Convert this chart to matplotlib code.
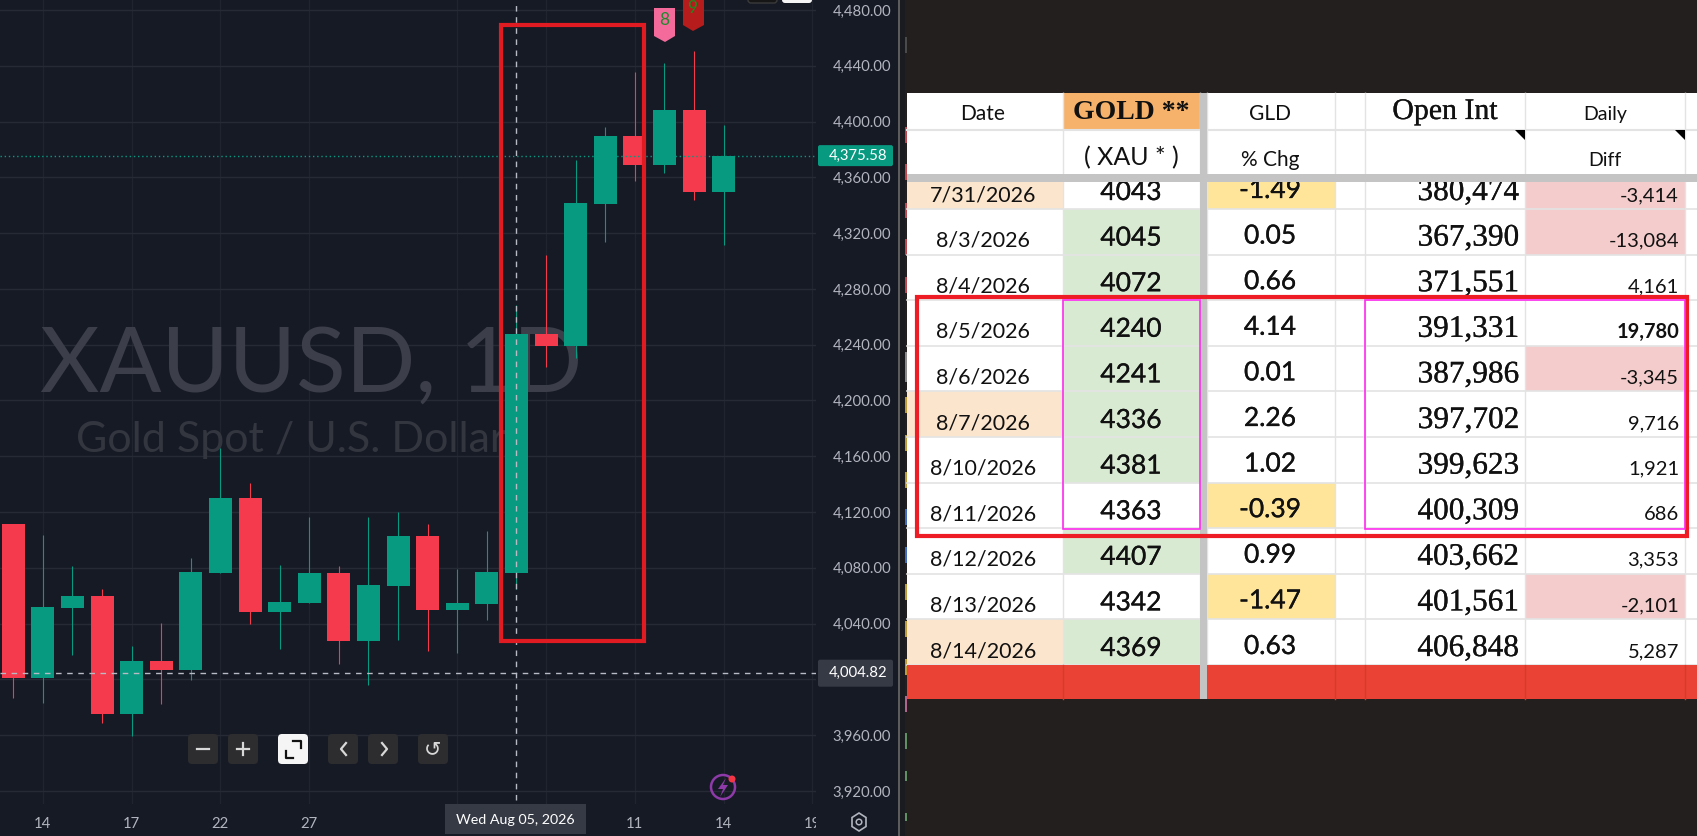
import matplotlib
matplotlib.use("Agg")
import matplotlib.pyplot as plt
import matplotlib.patheffects as pe
from matplotlib.patches import Rectangle, FancyBboxPatch, Polygon, Circle
from matplotlib.transforms import Bbox

# candles
opens  = [4111.2, 4000.8, 4051.0, 4059.6, 3975.0, 4013.0, 4006.6, 4076.1, 4129.9, 4048.1, 4054.6, 4076.1, 4027.4,
          4066.8, 4102.6, 4049.6, 4053.9, 4076.1, 4247.5, 4239.0, 4340.7, 4389.5, 4368.7, 4408.1, 4349.3]
closes = [4000.8, 4051.7, 4059.6, 3975.0, 4013.0, 4006.6, 4076.8, 4129.9, 4048.1, 4055.3, 4076.1, 4027.4, 4067.5,
          4102.6, 4049.6, 4054.6, 4076.8, 4247.5, 4239.0, 4341.4, 4389.5, 4368.7, 4408.1, 4349.3, 4375.6]
highs  = [4111.2, 4103.4, 4081.1, 4064.6, 4023.8, 4040.3, 4086.9, 4165.7, 4140.6, 4081.8, 4116.3, 4081.1, 4116.3,
          4119.8, 4111.2, 4079.0, 4106.2, 4268.3, 4304.2, 4372.3, 4395.9, 4435.4, 4441.8, 4450.4, 4397.4]
lows   = [3986.5, 3982.9, 4017.3, 3968.6, 3959.2, 3982.2, 3999.4, 4076.1, 4039.5, 4021.6, 4054.6, 4010.9, 3995.8,
          4028.1, 4020.2, 4018.8, 4042.4, 4064.6, 4223.9, 4230.3, 4313.5, 4357.2, 4363.0, 4343.6, 4311.3]

price_ticks = [4480, 4440, 4400, 4360, 4320, 4280, 4240, 4200, 4160, 4120, 4080, 4040, 4000, 3960, 3920]
date_tick_pos = [1, 4, 7, 10, 15, 18, 21, 24, 27]
date_tick_labels = ["14", "17", "22", "27", "", "", "11", "14", "19"]
last_price = 4375.58
cross_price = 4004.82
cross_candle = 17

# spreadsheet columns
dates = ["7/31/2026", "8/3/2026", "8/4/2026", "8/5/2026", "8/6/2026", "8/7/2026",
         "8/10/2026", "8/11/2026", "8/12/2026", "8/13/2026", "8/14/2026"]
gold = ["4043", "4045", "4072", "4240", "4241", "4336", "4381", "4363", "4407", "4342", "4369"]
pct_chg = ["-1.49", "0.05", "0.66", "4.14", "0.01", "2.26", "1.02", "-0.39", "0.99", "-1.47", "0.63"]
open_int = ["380,474", "367,390", "371,551", "391,331", "387,986", "397,702",
            "399,623", "400,309", "403,662", "401,561", "406,848"]
daily_diff = ["-3,414", "-13,084", "4,161", "19,780", "-3,345", "9,716",
              "1,921", "686", "3,353", "-2,101", "5,287"]
friday_rows = [0, 5, 10]
gold_green_rows = [1, 2, 3, 4, 5, 6, 8, 10]

# small coloured marks at the sheet's left edge: (top, bottom, colour)
edge_marks = [(127, 143, "#c0444c"), (164, 180, "#c0444c"), (203, 218, "#c0444c"), (239, 255, "#c0444c"),
              (277, 293, "#c0444c"), (397, 413, "#c09a35"), (435, 451, "#c09a35"), (472, 488, "#c09a35"),
              (509, 525, "#3f6cc0"), (547, 563, "#3f6cc0"), (584, 600, "#c09a35"), (621, 637, "#c09a35"),
              (659, 675, "#c09a35"), (696, 712, "#b0668c"), (733, 749, "#5f8f62"), (771, 781, "#5f8f62"),
              (813, 821, "#5f8f62")]

BG = "#161a25"
GRID_H = "#262a35"
GRID_V = "#20242f"
TXT = "#b2b5be"
GREEN = "#089981"
RED = "#f43a4c"

W, H = 1697, 836
fig = plt.figure(figsize=(W / 100, H / 100), dpi=100, facecolor=BG)

# chart panel, sized in pixels
chart_w, chart_h = 816, 804
step = 29.6
first_x = 13.2
px_per_usd = 1.3946
ax = fig.add_axes([0, (H - chart_h) / H, chart_w / W, chart_h / H], facecolor=BG)
ax.set_xlim(-first_x / step, (chart_w - first_x) / step)
ax.set_ylim(4480 - (chart_h - 10) / px_per_usd, 4480 + 10 / px_per_usd)

for s in ax.spines.values():
    s.set_visible(False)
ax.yaxis.tick_right()
ax.set_yticks(price_ticks)
# 4,000.00 sits under the crosshair tag, so it has no label of its own
ax.set_yticklabels(["" if p == 4000 else f"{p:,.2f}" for p in price_ticks], family="Lato", fontsize=10.7, color=TXT)
ax.set_xticks(date_tick_pos)
ax.set_xticklabels(date_tick_labels, family="Lato", fontsize=10.7, color=TXT)
ax.tick_params(axis="y", length=0, pad=12)
ax.tick_params(axis="x", length=0, pad=9)
ax.grid(True, axis="y", color=GRID_H, linewidth=1)
ax.grid(True, axis="x", color=GRID_V, linewidth=1)
ax.set_axisbelow(True)
for lbl in ax.get_xticklabels():
    lbl.set_clip_on(True)
    lbl.set_clip_box(Bbox([[0, 0], [chart_w, H]]))

# watermark sits behind the candles
ax.text((40 - first_x) / step, 4480 - (392 - 10) / px_per_usd, "XAUUSD, 1D", family="Lato",
        fontsize=66, color="#3c3f49", va="baseline", ha="left", zorder=1)
ax.text((76 - first_x) / step, 4480 - (452 - 10) / px_per_usd, "Gold Spot / U.S. Dollar", family="Lato",
        fontsize=31, color="#33363f", va="baseline", ha="left", zorder=1)

xs = list(range(len(opens)))
colors = [GREEN if c >= o else RED for o, c in zip(opens, closes)]
ax.vlines(xs, lows, highs, colors=colors, linewidth=0.8, zorder=2)
ax.bar(xs, [abs(c - o) for o, c in zip(opens, closes)], bottom=[min(o, c) for o, c in zip(opens, closes)],
       width=23 / step, color=colors, linewidth=0, zorder=3)

ax.axhline(last_price, color=GREEN, linewidth=1, linestyle=(0, (1, 2)), zorder=4)
ax.axhline(cross_price, color="#b8bbc4", linewidth=1, linestyle=(0, (4, 4)), zorder=5)
ax.axvline(cross_candle, color="#b8bbc4", linewidth=1, linestyle=(0, (4, 4)), zorder=5, ymin=0.005)

# overlay in image pixels for tags, buttons and the table
ov = fig.add_axes([0, 0, 1, 1], facecolor="none")
ov.set_xlim(0, W)
ov.set_ylim(H, 0)
ov.axis("off")


def rect(x0, y0, x1, y1, color, z=2, **kw):
    ov.add_patch(Rectangle((x0, y0), x1 - x0, y1 - y0, facecolor=color, edgecolor="none", zorder=z, **kw))


def box(x0, y0, x1, y1, color, lw):
    ov.add_patch(Rectangle((x0, y0), x1 - x0, y1 - y0, fill=False, edgecolor=color, linewidth=lw, zorder=9))


def y_of(p):
    return 10 + (4480 - p) * px_per_usd


# price tags
ov.add_patch(FancyBboxPatch((820, y_of(last_price) - 8.5), 71, 17, boxstyle="round,pad=2", facecolor=GREEN, edgecolor="none", zorder=2))
ov.text(887, y_of(last_price), f"{last_price:,.2f}", family="Lato", fontsize=10.7, color="white",
        ha="right", va="center", zorder=3)
ov.add_patch(FancyBboxPatch((820, y_of(cross_price) - 11), 71, 23, boxstyle="round,pad=2", facecolor="#363a45", edgecolor="none", zorder=2))
ov.text(887, y_of(cross_price), f"{cross_price:,.2f}", family="Lato", fontsize=10.7, color="white",
        ha="right", va="center", zorder=3)
rect(445, 804, 586, 834, "#363a45")
ov.text(515, 820, "Wed Aug 05, 2026", family="Lato", fontsize=10.3, color="white",
        ha="center", va="center", zorder=3)

# settings icon
ov.add_patch(Polygon([(859, 813), (866, 817.5), (866, 826.5), (859, 831), (852, 826.5), (852, 817.5)], closed=True,
                     fill=False, edgecolor=TXT, linewidth=1.2, zorder=3))
ov.add_patch(Circle((859, 822), 2.8, fill=False, edgecolor=TXT, linewidth=1.1, zorder=3))

# chart buttons
btn_x = [188, 228, 278, 328, 368, 418]
for i, x in enumerate(btn_x):
    col = "#f5f5f5" if i == 2 else "#2d2d2f"
    ov.add_patch(FancyBboxPatch((x + 4, 738), 22, 22, boxstyle="round,pad=4", facecolor=col, edgecolor="none", zorder=6))
ICON = "#d8d8d8"
ov.plot([197, 209], [749, 749], color=ICON, lw=1.6, zorder=7)
ov.plot([237, 249], [749, 749], color=ICON, lw=1.6, zorder=7)
ov.plot([243, 243], [743, 755], color=ICON, lw=1.6, zorder=7)
ov.plot([286, 286, 293], [751, 758, 758], color="#111111", lw=1.6, zorder=7)
ov.plot([293, 301, 301], [741, 741, 748], color="#111111", lw=1.6, zorder=7)
ov.plot([346, 341, 346], [743, 749, 755], color=ICON, lw=1.6, zorder=7)
ov.plot([382, 387, 382], [743, 749, 755], color=ICON, lw=1.6, zorder=7)
ov.text(433, 749, "\u21ba", color=ICON, fontsize=15, family="DejaVu Sans", ha="center", va="center", zorder=7)

# lightning badge
ov.add_patch(Circle((723, 787), 12, fill=False, edgecolor="#8e3aa8", linewidth=1.8, zorder=6))
ov.add_patch(Polygon([(726, 778), (718, 789), (723, 789), (720, 797), (728, 785), (723, 785)], closed=True,
                     facecolor="#8e3aa8", edgecolor="none", zorder=6))
ov.add_patch(Circle((732, 779), 3.5, facecolor="#f23645", edgecolor="none", zorder=7))

# top toggles
ov.add_patch(FancyBboxPatch((751, -6), 23, 6, boxstyle="round,pad=3", facecolor="#161616", edgecolor="#3a3a3a", zorder=6))
ov.add_patch(FancyBboxPatch((785, -6), 24, 6, boxstyle="round,pad=3", facecolor="#f5f5f5", edgecolor="none", zorder=6))

# sequence flags
ov.add_patch(Polygon([(654, 8), (675, 8), (675, 36), (665, 42), (654, 36)], closed=True, facecolor="#f46a9b", edgecolor="none", zorder=6))
ov.text(664.5, 20, "8", color="#1f8a2e", fontsize=12.5, family="Lato", ha="center", va="center", zorder=7)
ov.add_patch(Polygon([(683, -1), (704, -1), (704, 25), (693, 31), (683, 25)], closed=True, facecolor="#b71c1c", edgecolor="none", zorder=6))
ov.text(692.5, 8, "9", color="#1e8a1e", fontsize=12.5, family="Lato", ha="center", va="center", zorder=7)

# red box on the chart
box(500.6, 24.5, 643.5, 641, "#e01b22", 3)

# right side panel
rect(898, 0, 900, H, "#5c5c5c", z=1)
rect(900, 0, 905, H, "#1a1b20", z=1)
rect(905, 0, W, H, "#231f1f", z=1)
for top, bottom, c in edge_marks:
    rect(905, top, 907, bottom, c, z=1.5)
rect(905, 37, 907, 53, "#4a4a4a", z=1.5)
rect(905, 352, 907, 382, "#8a8a8a", z=1.5)

col_edges = [907, 1062.7, 1200, 1207, 1334.7, 1365, 1525, 1685, W]
row_bottom0 = 209
row_h = 45.6
header_top = 93
header_mid = 129.5
header_bottom = 174
bar_bottom = 181.7
LINE = "#e3e3e3"
PEACH = "#fce5cd"
MINT = "#d9ead3"
YEL = "#ffe599"
PINK = "#f4cccc"
TXT_T = "#111111"
thick = [pe.withStroke(linewidth=0.2, foreground=TXT_T)]

n_rows = len(dates)
table_bottom = row_bottom0 + (n_rows - 1) * row_h
for r in range(n_rows):
    y1 = row_bottom0 + r * row_h
    y0 = y1 - row_h
    rect(907, y0, W, y1, "white", z=2)
    if r in friday_rows:
        rect(col_edges[0], y0, col_edges[1], y1, PEACH, z=3)
    if r in gold_green_rows:
        rect(col_edges[1], y0, col_edges[2], y1, MINT, z=3)
    if pct_chg[r].startswith("-"):
        rect(col_edges[3], y0, col_edges[4], y1, YEL, z=3)
    if daily_diff[r].startswith("-"):
        rect(col_edges[6], y0, col_edges[7], y1, PINK, z=3)
    ov.plot([907, W], [y1, y1], color=LINE, lw=1.2, zorder=4)
    ov.text(983, y1 - 8, dates[r], family="Lato", fontsize=15.5, color=TXT_T, ha="center", va="baseline", zorder=5)
    ov.text(1131, y1 - 9, gold[r], family="Lato", fontsize=19, color=TXT_T, ha="center", va="baseline", zorder=5,
            path_effects=thick)
    ov.text(1270, y1 - 11, pct_chg[r], family="Lato", fontsize=19, color=TXT_T, ha="center", va="baseline", zorder=5,
            path_effects=thick)
    ov.text(1519, y1 - 9, open_int[r], family="Liberation Serif", fontsize=22.5, color=TXT_T, ha="right", va="baseline",
            zorder=5, path_effects=thick)
    ov.text(1679, y1 - 8, daily_diff[r], family="Lato", fontsize=14.5, color=TXT_T, ha="right", va="baseline", zorder=5,
            fontweight="bold" if r == 3 else "normal")

for x in col_edges[1:8]:
    ov.plot([x, x], [header_top, table_bottom], color=LINE, lw=1, zorder=4)

# header covers the top of the first row
rect(907, header_top, W, bar_bottom, "white", z=6)
rect(col_edges[1], header_top, col_edges[2], header_mid, "#f6b26b", z=6.1)
rect(907, header_bottom, W, bar_bottom, "#c4c4c4", z=7)
rect(col_edges[2], header_top, col_edges[3], table_bottom, "#c4c4c4", z=7)
ov.plot([907, W], [header_mid, header_mid], color=LINE, lw=1.5, zorder=6.2)
for x in col_edges[1:8]:
    ov.plot([x, x], [header_top, header_bottom], color=LINE, lw=1, zorder=6.2)

hdr = dict(ha="center", va="baseline", color=TXT_T, zorder=8)
ov.text(983, 120.5, "Date", family="Lato", fontsize=15, **hdr)
ov.text(1131, 119, "GOLD **", family="Liberation Serif", fontsize=20, fontweight="bold", **hdr)
ov.text(1131, 165, "( XAU * )", family="Lato", fontsize=18, **hdr)
ov.text(1270, 120.5, "GLD", family="Lato", fontsize=15, **hdr)
ov.text(1270, 166, "% Chg", family="Lato", fontsize=15, **hdr)
ov.text(1445, 119, "Open Int", family="Liberation Serif", fontsize=21.5, path_effects=thick, **hdr)
ov.text(1605, 120, "Daily", family="Lato", fontsize=14, **hdr)
ov.text(1605, 166, "Diff", family="Lato", fontsize=14, **hdr)
for x in (col_edges[6], col_edges[7]):
    ov.add_patch(Polygon([(x - 10, 130), (x, 130), (x, 140)], closed=True, facecolor="black", edgecolor="none", zorder=8))

# red footer band
rect(907, table_bottom, W, table_bottom + 33.6, "#ea4335", z=4.5)
rect(col_edges[2], table_bottom, col_edges[3], table_bottom + 33.6, "#c4c4c4", z=7)
for x in (col_edges[1], col_edges[4], col_edges[5], col_edges[6], col_edges[7]):
    ov.plot([x, x], [table_bottom, table_bottom + 33.6], color="#d23c2f", lw=1, zorder=4.6)

# highlight boxes over the table
box(917, 297, 1686.5, 535.5, "#ee1c25", 3)
box(col_edges[1], 300, col_edges[2], 529, "#ff2bf0", 1.2)
box(col_edges[5], 300, col_edges[7], 529, "#ff2bf0", 1.2)

fig.savefig("out.png", dpi=100, facecolor=BG)
